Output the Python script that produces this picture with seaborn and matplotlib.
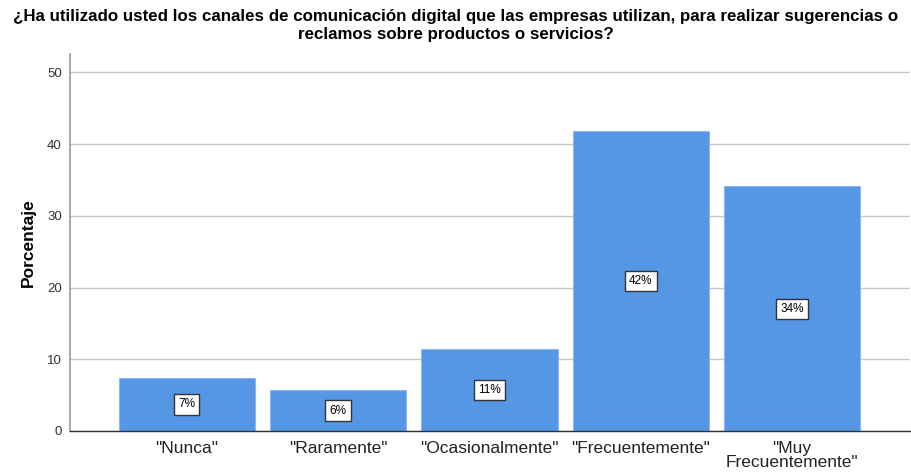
import pandas as pd
import matplotlib.pyplot as plt
import seaborn as sns

# data
categories = ['"Nunca"', '"Raramente"', '"Ocasionalmente"', '"Frecuentemente"', '"Muy\nFrecuentemente"']
percentages = [7.4, 5.7, 11.4, 41.8, 34.1]
bar_labels = ["7%", "6%", "11%", "42%", "34%"]

df = pd.DataFrame({"categoria": categories, "porcentaje": percentages})

sns.set_theme(style="white")
plt.rcParams['font.family'] = ['Liberation Sans', 'DejaVu Sans']

fig = plt.figure(figsize=(9.12, 4.72), dpi=100)
ax = fig.add_axes([0.077, 0.087, 0.921, 0.799])

ax.yaxis.grid(True, color="#c8c8c8", linewidth=1)
ax.set_axisbelow(True)

sns.barplot(data=df, x="categoria", y="porcentaje", color="#5596e5", saturation=1,
            width=0.9, edgecolor="#8fb8ee", linewidth=0.8, ax=ax)

for i, (v, lab) in enumerate(zip(percentages, bar_labels)):
    ax.text(i, v / 2, lab, ha="center", va="center", fontsize=8.5, color="black",
            bbox=dict(boxstyle="square,pad=0.35", facecolor="white", edgecolor="#333333", linewidth=1))

ax.set_xlim(-0.77, 4.78)
ax.set_ylim(0, 52.6)
ax.set_yticks([0, 10, 20, 30, 40, 50])
ax.tick_params(axis="y", labelsize=9.5, labelcolor="#333333", length=0, pad=6)
ax.tick_params(axis="x", labelsize=12.5, labelcolor="#222222", length=0, pad=7)
for t in ax.get_xticklabels():
    t.set_linespacing(0.95)

for s in ["top", "right"]:
    ax.spines[s].set_visible(False)
ax.spines["left"].set_color("#999999")
ax.spines["left"].set_linewidth(1.2)
ax.spines["bottom"].set_color("#333333")
ax.spines["bottom"].set_linewidth(1)

ax.set_xlabel("")
ax.set_ylabel("Porcentaje", fontsize=12.5, fontweight="bold", color="black", labelpad=8)

fig.suptitle("¿Ha utilizado usted los canales de comunicación digital que las empresas utilizan, para realizar sugerencias o\n"
             "reclamos sobre productos o servicios?", fontsize=12.2, fontweight="bold", y=0.98, x=0.5,
             linespacing=1.25, color="black")

plt.savefig("out.png", dpi=100)
